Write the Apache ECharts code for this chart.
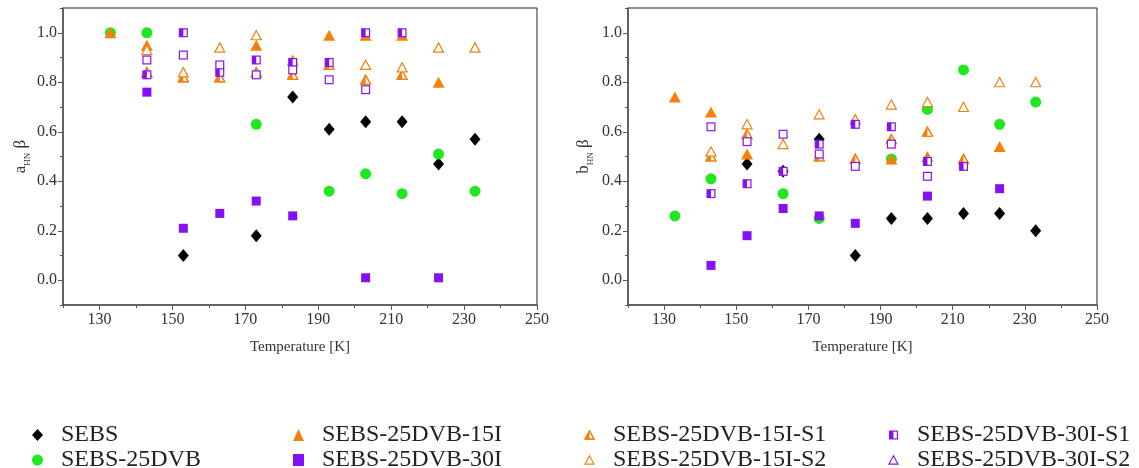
<!DOCTYPE html>
<html>
<head>
<meta charset="utf-8">
<script src="https://cdn.jsdelivr.net/npm/echarts@6/dist/echarts.min.js"></script>
<style>
  html, body { margin: 0; padding: 0; background: #fff; }
  #chart { width: 1139px; height: 468px; }
</style>
</head>
<body>
<div id="chart"></div>
<script>
// Temperature axis tick labels and value axis tick labels
const xTickLabels = [130, 150, 170, 190, 210, 230, 250];
const yTickLabels = [0.0, 0.2, 0.4, 0.6, 0.8, 1.0];

// a_HN·β  vs temperature [K]
const aSEBS      = [[153,0.10],[173,0.18],[183,0.74],[193,0.61],[203,0.64],[213,0.64],[223,0.47],[233,0.57]];
const aDVB       = [[133,1.00],[143,1.00],[173,0.63],[193,0.36],[203,0.43],[213,0.35],[223,0.51],[233,0.36]];
const aDVB15I    = [[133,1.00],[143,0.95],[173,0.95],[183,0.89],[193,0.99],[203,0.99],[213,0.99],[223,0.80]];
const aDVB30I    = [[143,0.76],[153,0.21],[163,0.27],[173,0.32],[183,0.26],[203,0.01],[223,0.01]];
const aDVB15IS1  = [[143,0.84],[153,0.82],[163,0.82],[173,0.84],[183,0.83],[193,0.87],[203,0.81],[213,0.83]];
const aDVB15IS2  = [[143,0.93],[153,0.84],[163,0.94],[173,0.99],[203,0.87],[213,0.86],[223,0.94],[233,0.94]];
const aDVB30IS1  = [[143,0.83],[153,1.00],[163,0.84],[173,0.89],[183,0.88],[193,0.88],[203,1.00],[213,1.00]];
const aDVB30IS2  = [[143,0.89],[153,0.91],[163,0.87],[173,0.83],[183,0.85],[193,0.81],[203,0.77]];

// b_HN·β  vs temperature [K]
const bSEBS      = [[153,0.47],[163,0.44],[173,0.57],[183,0.10],[193,0.25],[203,0.25],[213,0.27],[223,0.27],[233,0.20]];
const bDVB       = [[133,0.26],[143,0.41],[163,0.35],[173,0.25],[193,0.49],[203,0.69],[213,0.85],[223,0.63],[233,0.72]];
const bDVB15I    = [[133,0.74],[143,0.68],[153,0.51],[193,0.49],[203,0.50],[223,0.54]];
const bDVB30I    = [[143,0.06],[153,0.18],[163,0.29],[173,0.26],[183,0.23],[203,0.34],[223,0.37]];
const bDVB15IS1  = [[143,0.50],[153,0.59],[173,0.50],[183,0.49],[193,0.57],[203,0.60],[213,0.49]];
const bDVB15IS2  = [[143,0.52],[153,0.63],[163,0.55],[173,0.67],[183,0.65],[193,0.71],[203,0.72],[213,0.70],[223,0.80],[233,0.80]];
const bDVB30IS1  = [[143,0.35],[153,0.39],[163,0.44],[173,0.55],[183,0.63],[193,0.62],[203,0.48],[213,0.46]];
const bDVB30IS2  = [[143,0.62],[153,0.56],[163,0.59],[173,0.51],[183,0.46],[193,0.55],[203,0.42]];

const names = ['SEBS', 'SEBS-25DVB', 'SEBS-25DVB-15I', 'SEBS-25DVB-30I',
               'SEBS-25DVB-15I-S1', 'SEBS-25DVB-15I-S2', 'SEBS-25DVB-30I-S1', 'SEBS-25DVB-30I-S2'];

const ORANGE = '#F5800C';
const GREEN  = '#1FE81F';
const PURPLE = '#8610F5';
const BLACK  = '#000000';
const FONT   = '"Liberation Serif", "Times New Roman", serif';

function svgSymbol(body) {
  const svg = "<svg xmlns='http://www.w3.org/2000/svg' width='24' height='24' viewBox='0 0 24 24'>" + body + "</svg>";
  return 'image://data:image/svg+xml;charset=utf-8,' + encodeURIComponent(svg);
}
const TRI = '12,2.5 22,21 2,21';
const triHollow = c => svgSymbol(`<polygon points='${TRI}' fill='white' stroke='${c}' stroke-width='2.4'/>`);
const triHalf = c => svgSymbol(`<polygon points='${TRI}' fill='white' stroke='${c}' stroke-width='2.4'/>` +
                               `<polygon points='12,2.5 12,21 2,21' fill='${c}'/>` +
                               `<polygon points='${TRI}' fill='none' stroke='${c}' stroke-width='2.4'/>`);
const sqHollow = c => svgSymbol(`<rect x='3.5' y='3.5' width='17' height='17' fill='white' stroke='${c}' stroke-width='2.6'/>`);
const sqHalf = c => svgSymbol(`<rect x='3.5' y='3.5' width='17' height='17' fill='white' stroke='${c}' stroke-width='2.6'/>` +
                              `<rect x='3.5' y='3.5' width='8.5' height='17' fill='${c}'/>`);

// marker look per series, in drawing order
const looks = [
  { symbol: 'diamond',  symbolSize: [11, 13], itemStyle: { color: BLACK, opacity: 1 } },
  { symbol: 'circle',   symbolSize: 11,       itemStyle: { color: GREEN, opacity: 1 } },
  { symbol: 'triangle', symbolSize: [12, 11], itemStyle: { color: ORANGE, opacity: 1 } },
  { symbol: 'rect',     symbolSize: 9,        itemStyle: { color: PURPLE, opacity: 1 } },
  { symbol: triHalf(ORANGE),   symbolSize: 12, itemStyle: { color: ORANGE, opacity: 1 } },
  { symbol: triHollow(ORANGE), symbolSize: 12, itemStyle: { color: ORANGE, opacity: 1 } },
  { symbol: sqHalf(PURPLE),    symbolSize: 11, itemStyle: { color: PURPLE, opacity: 1 } },
  { symbol: sqHollow(PURPLE),  symbolSize: 11, itemStyle: { color: PURPLE, opacity: 1 } }
];

const aData = [aSEBS, aDVB, aDVB15I, aDVB30I, aDVB15IS1, aDVB15IS2, aDVB30IS1, aDVB30IS2];
const bData = [bSEBS, bDVB, bDVB15I, bDVB30I, bDVB15IS1, bDVB15IS2, bDVB30IS1, bDVB30IS2];

function makeSeries(dataSets, axisIndex) {
  return dataSets.map((d, i) => Object.assign({
    name: names[i],
    type: 'scatter',
    xAxisIndex: axisIndex,
    yAxisIndex: axisIndex,
    data: d,
    z: 2 + i
  }, looks[i]));
}

const labelStyle = { fontFamily: FONT, fontSize: 16, color: '#333' };

function mainX(grid) {
  return {
    gridIndex: grid, type: 'value', min: 120, max: 250, position: 'bottom',
    name: 'Temperature [K]', nameLocation: 'middle', nameGap: 35,
    nameTextStyle: { fontFamily: FONT, fontSize: 15, color: '#333' },
    axisLine: { show: true, onZero: false, lineStyle: { color: '#555', width: 1.5 } },
    axisTick: { show: true, length: 5, customValues: xTickLabels, lineStyle: { color: '#555' } },
    axisLabel: Object.assign({ customValues: xTickLabels, margin: 7 }, labelStyle),
    splitLine: { show: false }
  };
}
function minorX(grid) {
  return {
    gridIndex: grid, type: 'value', min: 120, max: 250, interval: 10, position: 'bottom',
    axisLine: { show: false, onZero: false }, axisLabel: { show: false }, splitLine: { show: false },
    axisTick: { show: true, length: 3, lineStyle: { color: '#555' } }
  };
}
function mainY(grid, letter, gap) {
  return {
    gridIndex: grid, type: 'value', min: -0.1, max: 1.1, position: 'left',
    name: '{m|' + letter + '}{s|HN}{m| β}', nameLocation: 'middle', nameGap: gap, nameRotate: 90,
    nameTextStyle: {
      fontFamily: FONT, color: '#333',
      rich: {
        m: { fontFamily: FONT, fontSize: 17, color: '#333', lineHeight: 22 },
        s: { fontFamily: FONT, fontSize: 9, color: '#333', verticalAlign: 'bottom', lineHeight: 14 }
      }
    },
    axisLine: { show: true, onZero: false, lineStyle: { color: '#555', width: 1.5 } },
    axisTick: { show: true, length: 5, customValues: yTickLabels, lineStyle: { color: '#555' } },
    axisLabel: Object.assign({ customValues: yTickLabels, margin: 6, formatter: v => Number(v).toFixed(1) }, labelStyle),
    splitLine: { show: false }
  };
}
function minorY(grid) {
  return {
    gridIndex: grid, type: 'value', min: -0.1, max: 1.1, interval: 0.1, position: 'left',
    axisLine: { show: false, onZero: false }, axisLabel: { show: false }, splitLine: { show: false },
    axisTick: { show: true, length: 3, lineStyle: { color: '#555' } }
  };
}

// one legend entry below the plots (4 columns x 2 rows)
const legendCols = [32, 293, 584, 888];
const legendRows = [423, 448];
function legendEntry(item, col, row) {
  return {
    left: legendCols[col], top: legendRows[row], padding: 0,
    itemWidth: 11, itemHeight: 12,
    textStyle: { fontFamily: FONT, fontSize: 24, color: '#222', lineHeight: 20, padding: [0, 0, 0, 13] },
    data: [item]
  };
}

const option = {
  backgroundColor: '#fff',
  animation: false,
  grid: [
    { left: 63, top: 8, width: 474, height: 297, show: true, borderColor: '#222', borderWidth: 1 },
    { left: 628, top: 8, width: 469, height: 297, show: true, borderColor: '#222', borderWidth: 1 }
  ],
  xAxis: [mainX(0), minorX(0), mainX(1), minorX(1)],
  yAxis: [mainY(0, 'a', 31), minorY(0), mainY(1, 'b', 33), minorY(1)],
  legend: [
    legendEntry(names[0], 0, 0),
    legendEntry(names[1], 0, 1),
    legendEntry(names[2], 1, 0),
    legendEntry(names[3], 1, 1),
    legendEntry(names[4], 2, 0),
    legendEntry(names[5], 2, 1),
    legendEntry(names[6], 3, 0),
    legendEntry({ name: names[7], icon: triHollow(PURPLE) }, 3, 1)
  ],
  series: makeSeries(aData, 0).concat(makeSeries(bData, 2))
};

const chart = echarts.init(document.getElementById('chart'), null, { renderer: 'canvas' });
chart.setOption(option);
</script>
</body>
</html>
